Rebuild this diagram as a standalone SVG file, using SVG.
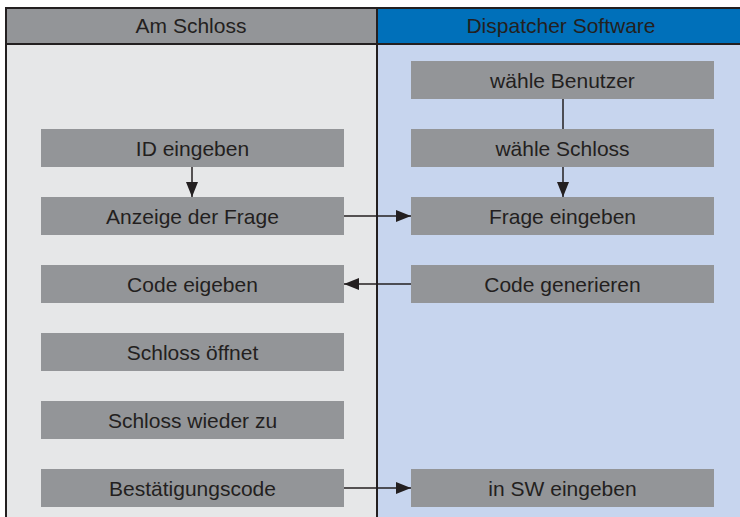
<svg xmlns="http://www.w3.org/2000/svg" width="740" height="517" viewBox="0 0 740 517">
<defs>
<style>
.box{fill:#939598}
.t{font-family:"Liberation Sans",Arial,sans-serif;font-size:21px;fill:#231f20;text-anchor:middle}
.ln{stroke:#231f20;stroke-width:1.5;fill:none}
.bd{stroke:#231f20;stroke-width:2;fill:none}
</style>
<marker id="ah" markerWidth="15" markerHeight="12" refX="15" refY="6" orient="auto" markerUnits="userSpaceOnUse">
<path d="M0,0 L15,6 L0,12 Z" fill="#231f20"/>
</marker>
</defs>
<rect x="0" y="0" width="740" height="517" fill="#ffffff"/>
<g id="lanes">
<rect x="6" y="8" width="371" height="509" fill="#e6e7e8"/>
<rect x="377" y="8" width="363" height="509" fill="#c7d5ee"/>
<rect x="6" y="8" width="371" height="36" fill="#939598"/>
<rect x="377" y="8" width="363" height="36" fill="#0070ba"/>
<path class="bd" d="M6,517 V8 H740 M6,44 H740 M377,8 V517"/>
<text class="t" x="191" y="33">Am Schloss</text>
<text class="t" x="561" y="33">Dispatcher Software</text>
</g>
<g id="connectors">
<path class="ln" d="M563,99 V129"/>
<path class="ln" d="M192,167 V197" marker-end="url(#ah)"/>
<path class="ln" d="M563,167 V197" marker-end="url(#ah)"/>
<path class="ln" d="M344,216 H411" marker-end="url(#ah)"/>
<path class="ln" d="M411,284 H344" marker-end="url(#ah)"/>
<path class="ln" d="M344,488 H411" marker-end="url(#ah)"/>
</g>
<g id="n_waehle_benutzer"><rect class="box" x="411" y="61" width="303" height="38"/><text class="t" x="562.5" y="87.5">wähle Benutzer</text></g>
<g id="n_id_eingeben"><rect class="box" x="41" y="129" width="303" height="38"/><text class="t" x="192.5" y="155.5">ID eingeben</text></g>
<g id="n_waehle_schloss"><rect class="box" x="411" y="129" width="303" height="38"/><text class="t" x="562.5" y="155.5">wähle Schloss</text></g>
<g id="n_anzeige"><rect class="box" x="41" y="197" width="303" height="38"/><text class="t" x="192.5" y="223.5">Anzeige der Frage</text></g>
<g id="n_frage_eingeben"><rect class="box" x="411" y="197" width="303" height="38"/><text class="t" x="562.5" y="223.5">Frage eingeben</text></g>
<g id="n_code_eigeben"><rect class="box" x="41" y="265" width="303" height="38"/><text class="t" x="192.5" y="291.5">Code eigeben</text></g>
<g id="n_code_generieren"><rect class="box" x="411" y="265" width="303" height="38"/><text class="t" x="562.5" y="291.5">Code generieren</text></g>
<g id="n_schloss_oeffnet"><rect class="box" x="41" y="333" width="303" height="38"/><text class="t" x="192.5" y="359.5">Schloss öffnet</text></g>
<g id="n_schloss_zu"><rect class="box" x="41" y="401" width="303" height="38"/><text class="t" x="192.5" y="427.5">Schloss wieder zu</text></g>
<g id="n_bestaetigung"><rect class="box" x="41" y="469" width="303" height="38"/><text class="t" x="192.5" y="495.5">Bestätigungscode</text></g>
<g id="n_sw_eingeben"><rect class="box" x="411" y="469" width="303" height="38"/><text class="t" x="562.5" y="495.5">in SW eingeben</text></g>
</svg>
